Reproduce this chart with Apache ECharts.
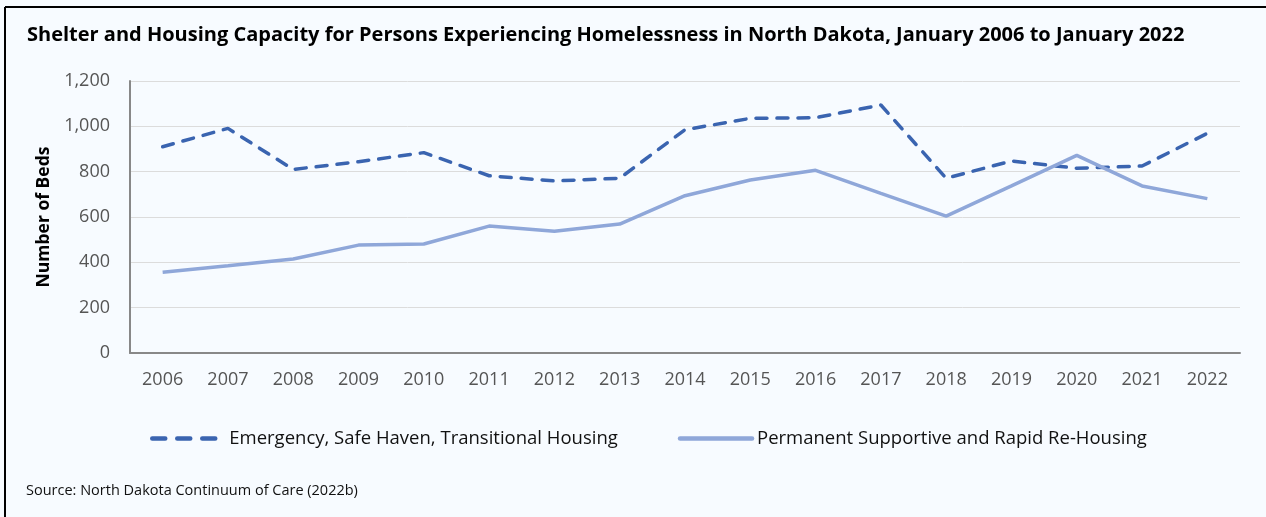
<!DOCTYPE html>
<html>
<head>
<meta charset="utf-8">
<script src="https://cdn.jsdelivr.net/npm/echarts@6/dist/echarts.min.js"></script>
<style>
  html, body { margin: 0; padding: 0; background: #f7fbff; }
  #chart { width: 1266px; height: 517px; }
</style>
</head>
<body>
<div id="chart"></div>
<script>
  var years = ['2006','2007','2008','2009','2010','2011','2012','2013','2014','2015','2016','2017','2018','2019','2020','2021','2022'];
  // Emergency, Safe Haven, Transitional Housing
  var emergency = [910, 991, 810, 844, 884, 782, 759, 771, 985, 1035, 1038, 1094, 771, 847, 815, 825, 969];
  // Permanent Supportive and Rapid Re-Housing
  var permanent = [356, 385, 415, 476, 481, 560, 537, 569, 694, 763, 806, 704, 604, 737, 872, 737, 681];

  var chart = echarts.init(document.getElementById('chart'));
  var font = 'Open Sans';

  var option = {
    backgroundColor: '#f7fbff',
    animation: false,
    title: {
      text: 'Shelter and Housing Capacity for Persons Experiencing Homelessness in North Dakota, January 2006 to January 2022',
      left: 22,
      top: 20,
      textStyle: { fontFamily: font, fontSize: 20, fontWeight: 'bold', color: '#000' }
    },
    graphic: [
      { type: 'line', shape: { x1: 5, y1: 7, x2: 1266, y2: 7 }, style: { stroke: '#000', lineWidth: 2 } },
      { type: 'line', shape: { x1: 5, y1: 7, x2: 5, y2: 517 }, style: { stroke: '#000', lineWidth: 2 } },
      {
        type: 'text', left: 26, top: 483,
        style: { text: 'Source: North Dakota Continuum of Care (2022b)', font: '14.5px "Open Sans"', fill: '#111' }
      }
    ],
    legend: {
      top: 424,
      left: 145,
      itemGap: 60,
      itemWidth: 72,
      itemHeight: 14,
      itemStyle: { opacity: 0 },
      textStyle: { fontFamily: font, fontSize: 18.5, color: '#111' },
      data: [
        {
          name: 'Emergency, Safe Haven, Transitional Housing',
          lineStyle: { width: 4.5, type: [13, 12], cap: 'round' }
        },
        {
          name: 'Permanent Supportive and Rapid Re-Housing',
          lineStyle: { width: 4.5, cap: 'round' }
        }
      ]
    },
    grid: { left: 130, right: 26, top: 81, height: 272, containLabel: false },
    xAxis: {
      type: 'category',
      data: years,
      boundaryGap: true,
      axisLine: { lineStyle: { color: '#888', width: 2 } },
      axisTick: { show: false },
      axisLabel: { fontFamily: font, fontSize: 18, color: '#555', margin: 18 }
    },
    yAxis: {
      type: 'value',
      min: 0,
      max: 1200,
      interval: 200,
      name: 'Number of Beds',
      nameLocation: 'middle',
      nameGap: 77,
      nameTextStyle: { fontFamily: font, fontSize: 17.5, fontWeight: 'bold', color: '#000' },
      axisLine: { show: true, lineStyle: { color: '#888', width: 2 } },
      axisTick: { show: false },
      axisLabel: {
        fontFamily: font, fontSize: 18, color: '#555', margin: 20,
        formatter: function (v) { return v.toLocaleString('en-US'); }
      },
      splitLine: { lineStyle: { color: '#dcdcdc', width: 1 } }
    },
    series: [
      {
        name: 'Emergency, Safe Haven, Transitional Housing',
        type: 'line',
        data: emergency,
        symbol: 'none',
        itemStyle: { color: '#3a64b0' },
        lineStyle: { color: '#3a64b0', width: 3.5, type: [11, 10], cap: 'round' }
      },
      {
        name: 'Permanent Supportive and Rapid Re-Housing',
        type: 'line',
        data: permanent,
        symbol: 'none',
        itemStyle: { color: '#8fa7d9' },
        lineStyle: { color: '#8fa7d9', width: 3.5 }
      }
    ]
  };
  chart.setOption(option);
</script>
</body>
</html>
